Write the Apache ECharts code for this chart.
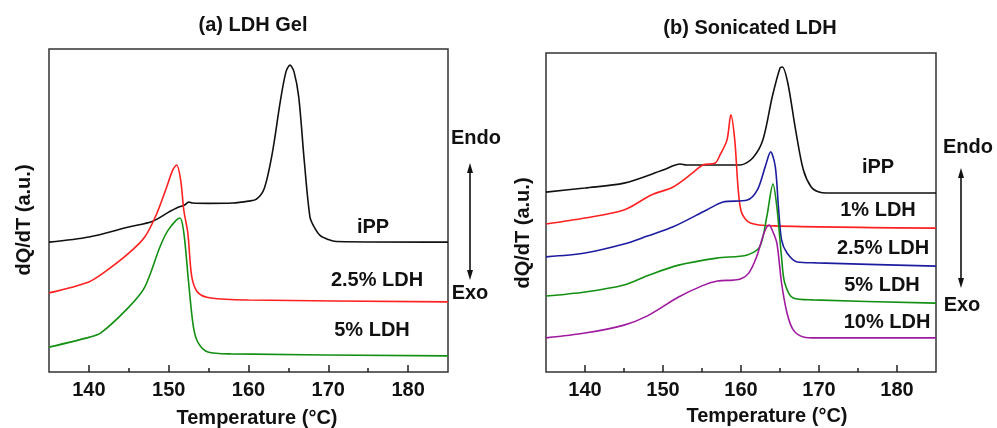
<!DOCTYPE html>
<html>
<head>
<meta charset="utf-8">
<script src="https://cdn.jsdelivr.net/npm/echarts@6/dist/echarts.min.js"></script>
<style>
  html, body { margin: 0; padding: 0; background: #fff; }
  #main { width: 997px; height: 428px; }
</style>
</head>
<body>
<div id="main"></div>
<script>
// tick labels (both panels share the same temperature axis)
var majorTicks = [140, 150, 160, 170, 180];
var minorTicks = [145, 155, 165, 175];

// (a) LDH Gel -- temperature (°C) / heat flow (a.u., stacked offsets)
var aIppT = [135, 140, 145, 148, 150, 151, 152, 152.5, 153, 155, 158, 160, 161, 162, 163, 164, 164.7, 165.2, 165.7, 166.3, 167, 167.7, 168.2, 169, 170, 171, 185];
var aIppV = [40.2, 41.8, 44.9, 46.7, 49.5, 50.8, 51.7, 52.6, 52.3, 52.2, 52.3, 52.9, 53.5, 57.0, 68, 84, 93, 95, 93, 85, 65, 48, 45, 42.2, 41, 40.4, 40.2];
var aLdh25T = [135, 140, 142, 145, 147, 148.5, 149.75, 150.5, 151, 151.5, 151.9, 152.4, 152.9, 153.7, 155.3, 160, 185];
var aLdh25V = [24.5, 27.9, 31.0, 36.8, 41.8, 49, 57.3, 62.5, 64.1, 59.4, 50, 43, 29.4, 24.5, 22.9, 22.3, 21.7];
var aLdh5T = [135, 140.1, 141.5, 145, 147, 148.9, 149.95, 151.4, 151.9, 152.5, 153.1, 153.7, 154.9, 157.8, 185];
var aLdh5V = [7.7, 10.8, 12.1, 20.1, 26.3, 38.7, 44.0, 47.7, 43, 27.6, 13.9, 9.0, 6.2, 5.6, 5.0];

// (b) Sonicated LDH
var bIppT = [135, 140, 145, 150, 152.2, 153, 155, 159.9, 161.5, 162.8, 164, 165, 165.3, 166, 167, 168, 169, 170, 171, 185];
var bIppV = [56.4, 57.7, 59.2, 63.3, 65.2, 64.9, 64.9, 64.9, 67.1, 72.7, 86.2, 95.3, 95.6, 90.6, 75.9, 63.3, 58.0, 56.4, 56.1, 56.1];
var bLdh1T = [135, 140, 145, 148.5, 151.3, 153.8, 155.1, 156.7, 157.3, 158.2, 158.7, 159.2, 159.65, 160.1, 161.2, 164.1, 185];
var bLdh1V = [46.4, 48.3, 50.8, 55.5, 58, 62.4, 64.9, 65.5, 68, 72.7, 80.6, 72.7, 57, 49.8, 46.7, 45.8, 45.1];
var bLdh25T = [135, 140, 145, 148, 151.3, 155.6, 157.7, 160.8, 162.1, 163.1, 163.8, 164.4, 164.8, 165.2, 165.9, 167.2, 169.7, 185];
var bLdh25V = [36.1, 37.3, 40.1, 42.6, 45.5, 50.8, 53.3, 53.9, 57.1, 64.3, 69.0, 64.3, 51.7, 41.4, 37.3, 34.5, 34.2, 33.2];
var bLdh5T = [135, 140, 145, 148, 152, 156.9, 160.8, 162.4, 163.3, 164.1, 164.6, 165.2, 165.6, 166.7, 169.2, 185];
var bLdh5V = [23.8, 25.1, 27.3, 30.2, 33.5, 35.7, 36.7, 39.2, 48.6, 58.9, 51.7, 36, 28, 23.2, 22.6, 21.6];
var bLdh10T = [135, 140, 145, 148, 152, 155, 157, 159, 160, 161, 162, 163, 163.6, 164, 164.6, 165.2, 165.9, 166.7, 168, 169.7, 185];
var bLdh10V = [10.7, 12.2, 14.7, 17.6, 23.5, 27.0, 28.5, 28.8, 29.2, 31.0, 36.1, 43.9, 46.1, 44.5, 40.4, 27.9, 18.5, 13.2, 11.0, 10.7, 10.7];

function pairs(t, v) {
  return t.map(function (x, i) { return [x, v[i]]; });
}

var FONT = 'Liberation Sans, Arial, sans-serif';

function curve(name, t, v, color, grid) {
  return {
    name: name,
    type: 'line',
    xAxisIndex: grid * 2,
    yAxisIndex: grid,
    data: pairs(t, v),
    showSymbol: false,
    smooth: 0.3,
    lineStyle: { color: color, width: 1.6 },
    silent: true
  };
}

function txt(s, x, y, size, rot) {
  return {
    type: 'text',
    x: x, y: y,
    rotation: rot || 0,
    style: {
      text: s,
      font: 'bold ' + size + 'px ' + FONT,
      fill: '#111',
      textAlign: 'center',
      textVerticalAlign: 'middle'
    }
  };
}

function arrow(x, y1, y2) {
  return [
    { type: 'line', shape: { x1: x, y1: y1 + 6, x2: x, y2: y2 - 6 }, style: { stroke: '#111', lineWidth: 1.6 } },
    { type: 'polygon', shape: { points: [[x, y1], [x - 3, y1 + 10], [x + 3, y1 + 10]] }, style: { fill: '#111' } },
    { type: 'polygon', shape: { points: [[x, y2], [x - 3, y2 - 10], [x + 3, y2 - 10]] }, style: { fill: '#111' } }
  ];
}

function xAxes(grid) {
  return [
    {
      type: 'value', gridIndex: grid, position: 'bottom', min: 135, max: 185,
      axisLine: { show: false },
      splitLine: { show: false },
      axisTick: { inside: true, length: 7, customValues: majorTicks, lineStyle: { color: '#222', width: 1.5 } },
      axisLabel: { customValues: majorTicks, margin: 8, color: '#111', fontSize: 20, fontWeight: 'bold', fontFamily: FONT }
    },
    {
      type: 'value', gridIndex: grid, position: 'bottom', min: 135, max: 185,
      axisLine: { show: false },
      splitLine: { show: false },
      axisTick: { inside: true, length: 4, customValues: minorTicks, lineStyle: { color: '#222', width: 1.5 } },
      axisLabel: { show: false }
    }
  ];
}

function yAxis(grid) {
  return {
    type: 'value', gridIndex: grid, min: 0, max: 100,
    axisLine: { show: false }, axisTick: { show: false },
    axisLabel: { show: false }, splitLine: { show: false }
  };
}

var chart = echarts.init(document.getElementById('main'));
chart.setOption({
  animation: false,
  backgroundColor: '#fff',
  grid: [
    { left: 49, top: 49, width: 399, height: 323, show: true, borderColor: '#333', borderWidth: 1.5 },
    { left: 546, top: 53, width: 390, height: 319, show: true, borderColor: '#333', borderWidth: 1.5 }
  ],
  xAxis: xAxes(0).concat(xAxes(1)),
  yAxis: [yAxis(0), yAxis(1)],
  series: [
    curve('iPP', aIppT, aIppV, '#111111', 0),
    curve('2.5% LDH', aLdh25T, aLdh25V, '#ff2020', 0),
    curve('5% LDH', aLdh5T, aLdh5V, '#139013', 0),
    curve('iPP', bIppT, bIppV, '#111111', 1),
    curve('1% LDH', bLdh1T, bLdh1V, '#ff2020', 1),
    curve('2.5% LDH', bLdh25T, bLdh25V, '#1c1ca0', 1),
    curve('5% LDH', bLdh5T, bLdh5V, '#139013', 1),
    curve('10% LDH', bLdh10T, bLdh10V, '#a01aa0', 1)
  ],
  graphic: [
    txt('(a) LDH Gel', 253, 25, 20),
    txt('(b) Sonicated LDH', 750, 28, 20),
    txt('dQ/dT (a.u.)', 24, 220, 20, Math.PI / 2),
    txt('dQ/dT (a.u.)', 523, 233, 20, Math.PI / 2),
    txt('Temperature (°C)', 257, 418, 20),
    txt('Temperature (°C)', 767, 416, 20),
    txt('iPP', 373, 227, 20),
    txt('2.5% LDH', 377, 280, 20),
    txt('5% LDH', 372, 330, 20),
    txt('iPP', 878, 167, 20),
    txt('1% LDH', 878, 210, 20),
    txt('2.5% LDH', 883, 248, 20),
    txt('5% LDH', 882, 285, 20),
    txt('10% LDH', 887, 322, 20),
    txt('Endo', 476, 138, 20),
    txt('Exo', 470, 293, 20),
    txt('Endo', 968, 147, 20),
    txt('Exo', 962, 305, 20)
  ].concat(arrow(470, 163, 280)).concat(arrow(961, 168, 288))
});
</script>
</body>
</html>
